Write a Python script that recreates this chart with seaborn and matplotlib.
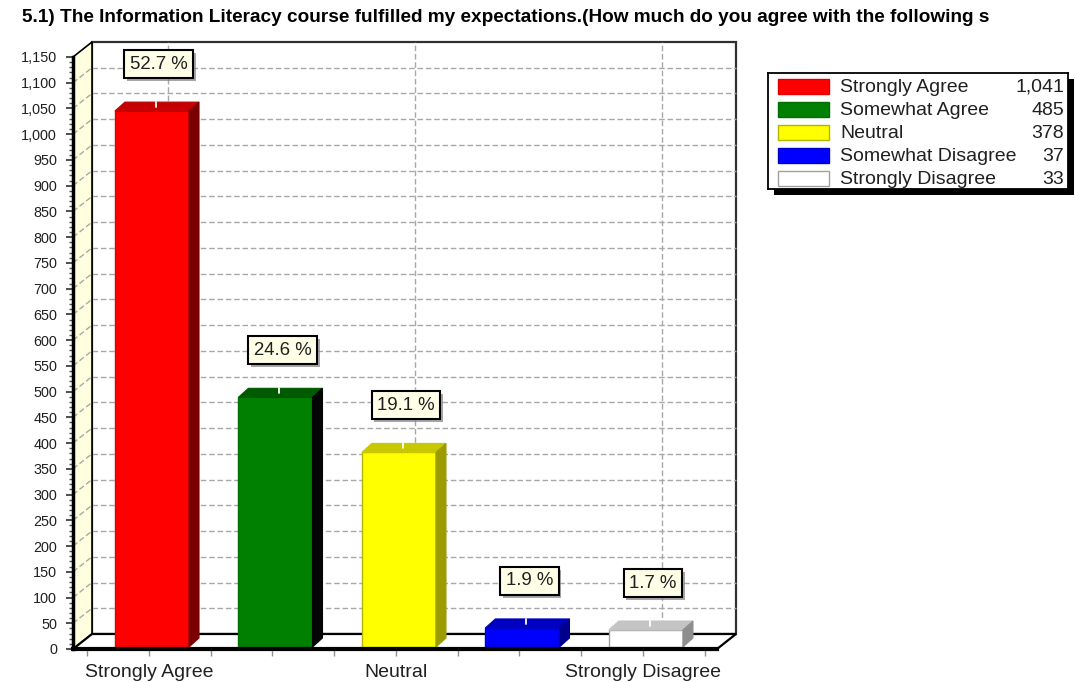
import numpy as np
import matplotlib
matplotlib.use("Agg")
import matplotlib.pyplot as plt
import matplotlib.patheffects as pe
from matplotlib.patches import Polygon, Rectangle
from matplotlib.transforms import offset_copy
import seaborn as sns

# data
categories = ["Strongly Agree", "Somewhat Agree", "Neutral", "Somewhat Disagree", "Strongly Disagree"]
counts = [1041, 485, 378, 37, 33]
percents = [52.7, 24.6, 19.1, 1.9, 1.7]
front_colors = ["#FF0000", "#008000", "#FFFF00", "#0000FF", "#FFFFFF"]
top_colors = ["#C40000", "#005A00", "#C8C800", "#0000C0", "#C4C4C4"]
side_colors = ["#7A0000", "#050505", "#9C9C00", "#00008C", "#8E8E8E"]
edge_colors = ["#E00000", "#007000", "#B4B400", "#0000D0", "#A0A0A0"]
y_ticks = list(range(0, 1151, 50))
x_labeled = [0, 2, 4]
title = "5.1) The Information Literacy course fulfilled my expectations.(How much do you agree with the following s"

sns.set_style("white")
plt.rcParams['font.family'] = ['Liberation Sans', 'DejaVu Sans']

W, H = 1075, 682
fig = plt.figure(figsize=(W / 100, H / 100), dpi=100)
ax = fig.add_axes([73 / W, (H - 649) / H, (717 - 73) / W, (649 - 57) / H])
ax.patch.set_visible(False)

# depth offsets in pixels
WDX, WDY = 19, 15      # back wall
BDX, BDY = 3, 2        # bar front face
BDX2, BDY2 = 13, 11    # bar back face

sns.barplot(x=categories, y=counts, hue=categories, palette=front_colors,
            width=0.6, legend=False, ax=ax, zorder=4, saturation=1)
xl, xr = -0.615, 4.6
ax.set_xlim(xl, xr)
ax.set_ylim(0, 1150)
ymax = 1150


def px(x, y, dx, dy):
    X, Y = ax.transData.transform((x, y))
    return ax.transData.inverted().transform((X + dx, Y + dy))


# back wall
wall = Polygon([px(xl, 0, WDX, WDY), px(xr, 0, WDX, WDY), px(xr, ymax, WDX, WDY), px(xl, ymax, WDX, WDY)],
               closed=True, fc="white", ec="#303030", lw=1.6, zorder=0.5, clip_on=False)
ax.add_patch(wall)

# left wall and floor
left = Polygon([(xl, 0), (xl, ymax), px(xl, ymax, WDX, WDY), px(xl, 0, WDX, WDY)],
               closed=True, fc="#FFFFE0", ec="black", lw=1.2, zorder=1, clip_on=False)
ax.add_patch(left)
floor = Polygon([(xl, 0), (xr, 0), px(xr, 0, WDX, WDY), px(xl, 0, WDX, WDY)],
                closed=True, fc="white", ec="black", lw=1.6, zorder=1, clip_on=False)
ax.add_patch(floor)

# grid lines
for v in y_ticks[1:-1]:
    a, b = px(xl, v, WDX, WDY), px(xr, v, WDX, WDY)
    ax.plot([a[0], b[0]], [a[1], b[1]], color="#A8A8A8", ls=(0, (4, 2)), lw=1, zorder=0.8, clip_on=False)
    ax.plot([xl, a[0]], [v, a[1]], color="#A8A8A8", ls=(0, (4, 2)), lw=1, zorder=1.2, clip_on=False)
for i in x_labeled:
    a, b = px(i, 0, WDX, WDY), px(i, ymax, WDX, WDY)
    ax.plot([a[0], b[0]], [a[1], b[1]], color="#A8A8A8", ls=(0, (4, 2)), lw=1, zorder=0.8, clip_on=False)

# 3d bars
bars = sorted([p for p in ax.patches if isinstance(p, Rectangle) and p.get_width() < 1],
              key=lambda p: p.get_x())
shift = offset_copy(ax.transData, fig=fig, x=BDX, y=BDY, units='dots')
for k, p in enumerate(bars):
    p.set_transform(shift)
    p.set_edgecolor(edge_colors[k])
    p.set_linewidth(1)
    p.set_clip_on(False)
    x0, x1, h = p.get_x(), p.get_x() + p.get_width(), p.get_height()
    top = Polygon([px(x0, h, BDX, BDY), px(x1, h, BDX, BDY), px(x1, h, BDX2, BDY2), px(x0, h, BDX2, BDY2)],
                  closed=True, fc=top_colors[k], ec=top_colors[k], lw=0.8, zorder=4, clip_on=False)
    side = Polygon([px(x1, 0, BDX, BDY), px(x1, h, BDX, BDY), px(x1, h, BDX2, BDY2), px(x1, 0, BDX2, BDY2)],
                   closed=True, fc=side_colors[k], ec=side_colors[k], lw=0.8, zorder=4, clip_on=False)
    ax.add_patch(top)
    ax.add_patch(side)
    c = (x0 + x1) / 2
    a, b = px(c, h, 7, 6), px(c, h, 7, 11)
    ax.plot([a[0], b[0]], [a[1], b[1]], color="white", lw=1.3, zorder=5, clip_on=False)

# percentage labels
for i, (v, pc) in enumerate(zip(counts, percents)):
    t = ax.annotate(f"{pc} %", xy=(i, v), xytext=(10, 49), textcoords='offset pixels',
                    ha='center', va='center', fontsize=13.4, color="#202020", zorder=10,
                    bbox=dict(boxstyle='square,pad=0.3', fc='#FFFFE8', ec='black', lw=1.5))
    t.get_bbox_patch().set_path_effects([pe.SimplePatchShadow(offset=(2, -2), shadow_rgbFace='#808080', alpha=0.7),
                                         pe.Normal()])

# axes styling
for s in ["top", "right"]:
    ax.spines[s].set_visible(False)
ax.spines["left"].set_linewidth(2.5)
ax.spines["left"].set_color("black")
ax.spines["left"].set_zorder(6)
ax.spines["bottom"].set_linewidth(3)
ax.spines["bottom"].set_color("black")
ax.spines["bottom"].set_zorder(6)

ax.set_yticks(y_ticks)
ax.set_yticklabels([f"{v:,}" for v in y_ticks])
ax.set_yticks(range(0, 1151, 10), minor=True)
ax.tick_params(axis='y', which='major', direction='out', length=5, width=1.2, color='#303030',
               pad=6.5, labelsize=10.4, labelcolor='#202020', left=True)
ax.tick_params(axis='y', which='minor', direction='out', length=3, width=1, color='#505050', left=True)

ax.set_xticks(x_labeled)
ax.set_xticklabels([categories[i] for i in x_labeled])
ax.set_xticks([-0.5, 0.5, 1, 1.5, 2.5, 3, 3.5, 4.5], minor=True)
ax.tick_params(axis='x', which='both', direction='out', length=5, width=1, color='#909090',
               pad=6, labelsize=14, labelcolor='#202020', bottom=True)
ax.set_xlabel("")
ax.set_ylabel("")

# title
fig.text(22 / W, 1 - 18 / H, title, fontsize=13.65, fontweight='bold', va='center', ha='left', color='black')

# legend box
lx0, ly0, lx1, ly1 = 768, 73, 1068, 189
lax = fig.add_axes([lx0 / W, 1 - ly1 / H, (lx1 - lx0) / W, (ly1 - ly0) / H])
lax.set_xlim(0, lx1 - lx0)
lax.set_ylim(ly1 - ly0, 0)
lax.set_xticks([])
lax.set_yticks([])
lax.patch.set_facecolor("white")
lax.patch.set_path_effects([pe.SimplePatchShadow(offset=(4, -4), shadow_rgbFace='black', alpha=1), pe.Normal()])
for s in lax.spines.values():
    s.set_color("black")
    s.set_linewidth(1.3)
for k, (name, n) in enumerate(zip(categories, counts)):
    yc = 13 + k * 23
    lax.add_patch(Rectangle((10, yc - 7.5), 51, 15, fc=front_colors[k], ec=edge_colors[k], lw=1))
    lax.text(72, yc + 1.5, name, va='center', ha='left', fontsize=14, color='#202020')
    lax.text(296, yc + 1.5, f"{n:,}", va='center', ha='right', fontsize=14, color='#202020')

fig.savefig("out.png", dpi=100)
